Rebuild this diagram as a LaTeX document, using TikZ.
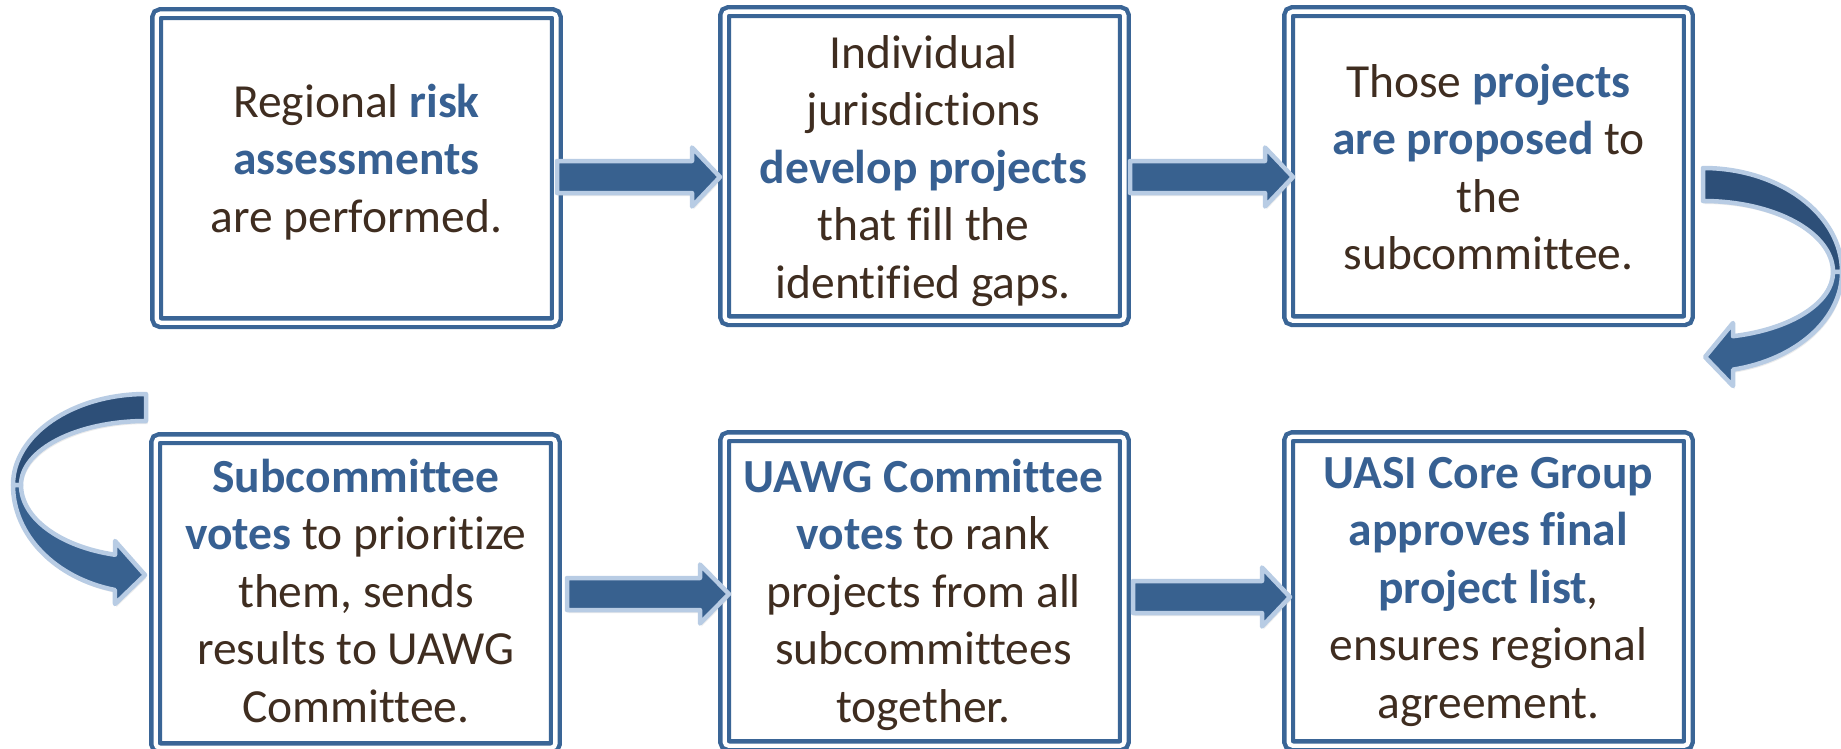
\documentclass[tikz,border=0pt]{standalone}
\usepackage{fontspec}
\setmainfont{Carlito}[Ligatures=NoCommon]
\usetikzlibrary{shadows}
\definecolor{boxblue}{HTML}{3A6596}
\definecolor{txtbrown}{HTML}{3F2D20}
\definecolor{txtblue}{HTML}{376092}
\definecolor{arrowfill}{HTML}{38618F}
\definecolor{arrowdark}{HTML}{2D4F78}
\definecolor{arrowrim}{HTML}{B8CCE4}
\newcommand\bluebf[1]{\textcolor{txtblue}{\bfseries #1}}
% block arrow: start x, head base x, tip x, centre y
\newcommand\blockarrow[4]{%
  \path[arrowshape] ({#1},{#4-16}) -- ({#2},{#4-16}) -- ({#2},{#4-29.5}) -- ({#3},{#4})
    -- ({#2},{#4+29.5}) -- ({#2},{#4+16}) -- ({#1},{#4+16}) -- cycle;}
\begin{document}
\begin{tikzpicture}[x=1pt,y=-1pt,
  stepbox/.style={draw=boxblue, double=white, double distance=4.3pt, line width=4.4pt,
    rounded corners=4pt, rectangle, inner sep=0pt, outer sep=0pt, anchor=north west,
    minimum width=399.7pt, minimum height=309pt},
  txt/.style={font=\fontsize{47.5}{57.5}\selectfont, text=txtbrown, align=center,
    anchor=north, inner sep=0pt},
  arrowshape/.style={fill=arrowfill, draw=arrowrim, line width=4.5pt, line join=round,
    drop shadow={opacity=0.15, shadow xshift=1.5pt, shadow yshift=-3pt}},
  darkband/.style={fill=arrowdark, draw=arrowrim, line width=4.5pt, line join=round,
    drop shadow={opacity=0.15, shadow xshift=1.5pt, shadow yshift=-3pt}},
  lightband/.style={fill=arrowfill, draw=arrowrim, line width=4.5pt, line join=round,
    drop shadow={opacity=0.15, shadow xshift=1.5pt, shadow yshift=-3pt}}
]
\useasboundingbox (0,0) rectangle (1841,749);
\fill[white] (0,0) rectangle (1841,749);
\clip (0,0) rectangle (1841,749);

% boxes (outer corner + 6.65)
\node[stepbox] (b1) at (156.65,13.65) {};
\node[stepbox] (b2) at (724.65,11.65) {};
\node[stepbox] (b3) at (1288.65,11.65) {};
\node[stepbox] (b4) at (155.65,438.65) {};
\node[stepbox] (b5) at (724.65,436.65) {};
\node[stepbox] (b6) at (1288.65,436.65) {};

% texts
\node[txt] (t1) at (356.5,77) {\rule{0pt}{40pt}Regional \bluebf{risk}\\ \bluebf{assessments}\\ are performed.};
\node[txt] (t2) at (923.5,28) {\rule{0pt}{40pt}Individual\\ jurisdictions\\ \bluebf{develop projects}\\ that fill the\\ identified gaps.};
\node[txt] (t3) at (1488.5,57) {\rule{0pt}{40pt}Those \bluebf{projects}\\ \bluebf{are proposed} to\\ the\\ subcommittee.};
\node[txt] (t4) at (356,452) {\rule{0pt}{40pt}\bluebf{Subcommittee}\\ \bluebf{votes} to prioritize\\ them, sends\\ results to UAWG\\ Committee.};
\node[txt] (t5) at (923.5,452) {\rule{0pt}{40pt}\bluebf{UAWG Committee}\\ \bluebf{votes} to rank\\ projects from all\\ subcommittees\\ together.};
\node[txt] (t6) at (1488.5,448) {\rule{0pt}{40pt}\bluebf{UASI Core Group}\\ \bluebf{approves final}\\ \bluebf{project list},\\ ensures regional\\ agreement.};

% straight block arrows
\blockarrow{557}{692}{720}{177}
\blockarrow{1130}{1265}{1293}{177}
\blockarrow{567}{700}{729}{594}
\blockarrow{1133}{1262}{1290}{597}

% right curved arrow (box 3 -> box 6), centre (1703,272)
\path[darkband] (1703,168) arc[start angle=-90,end angle=0,x radius=139,y radius=104]
  -- (1833,272) arc[start angle=0,end angle=-90,x radius=130,y radius=71] -- cycle;
\path[lightband] (1842,272) arc[start angle=0,end angle=77.5,x radius=139,y radius=100]
  -- (1733,386) -- (1705,357) -- (1733,323) -- (1733,336.2)
  arc[start angle=76.66,end angle=0,x radius=130,y radius=66] -- cycle;

% left curved arrow (into box 4), centre (146,485)
\path[darkband] (146,394) arc[start angle=270,end angle=180,x radius=133,y radius=91]
  -- (21,485) arc[start angle=180,end angle=270,x radius=125,y radius=64] -- cycle;
\path[lightband] (13,485) arc[start angle=180,end angle=103.5,x radius=133,y radius=108]
  -- (115,604) -- (145,575) -- (115,541) -- (115,554.75)
  arc[start angle=104.36,end angle=180,x radius=125,y radius=72] -- cycle;
\end{tikzpicture}
\end{document}
